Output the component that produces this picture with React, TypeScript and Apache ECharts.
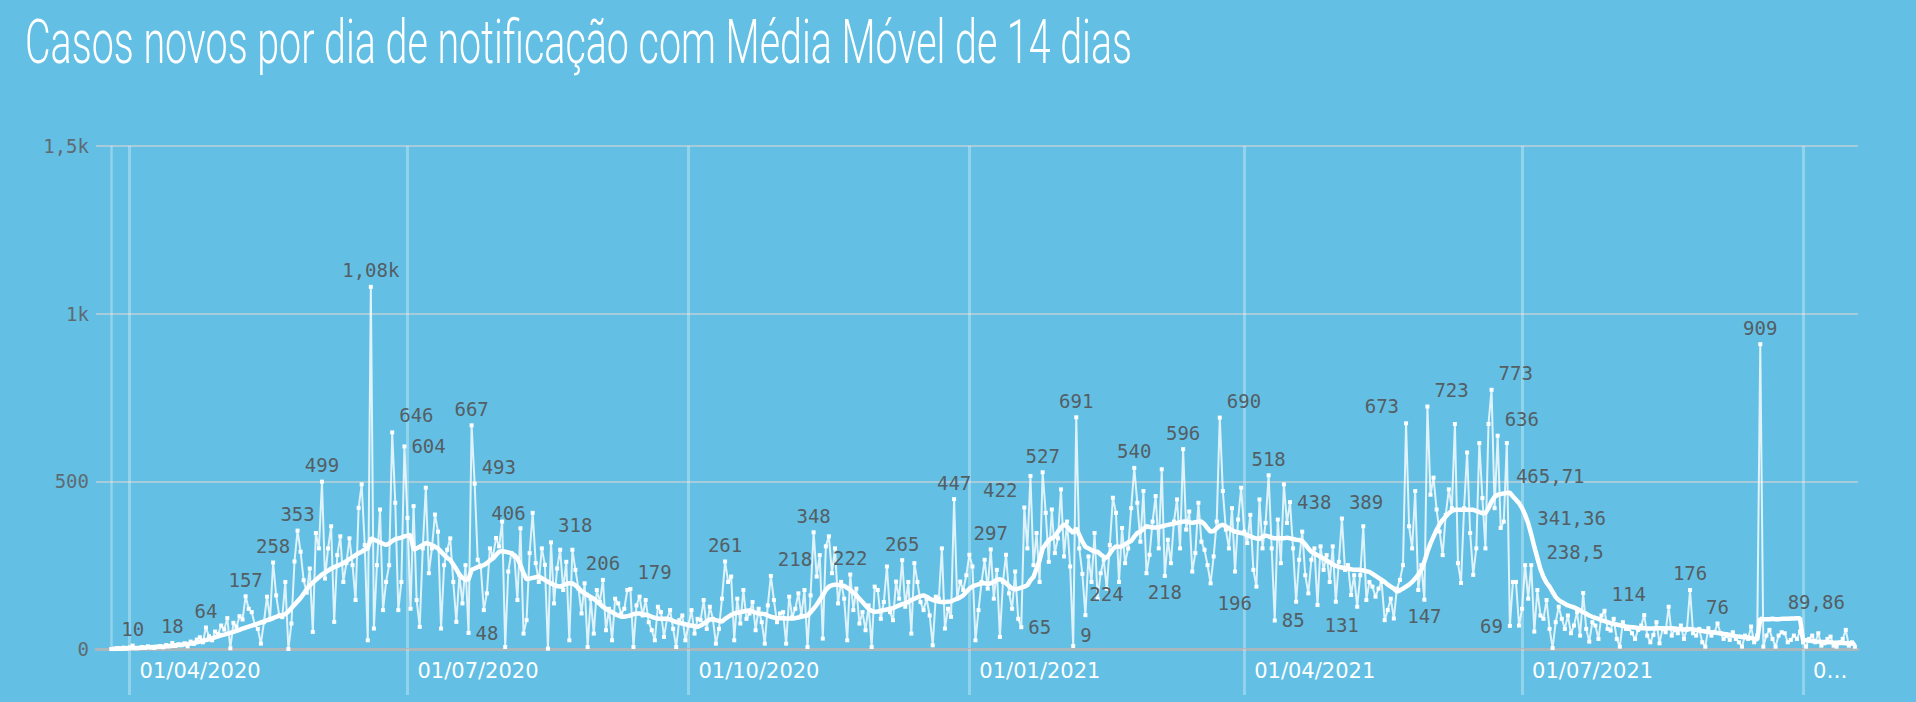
import React, { useEffect, useRef } from 'react';
import * as echarts from 'echarts';

const TITLE = 'Casos novos por dia de notificação com Média Móvel de 14 dias';

// calendar of the x axis (one category per day)
const START_YEAR = 2020;
const START_MONTH = 2; // March (0-based)
const START_DAY = 21;
const DAY_COUNT = 578; // 21/03/2020 .. 19/10/2021
const FIRST_DATA_DAY = 5; // 26/03/2020

const TICK_DATES = ['2020-04-01', '2020-07-01', '2020-10-01', '2021-01-01', '2021-04-01', '2021-07-01', '2021-10-01'];
const TICK_LABELS = ['01/04/2020', '01/07/2020', '01/10/2020', '01/01/2021', '01/04/2021', '01/07/2021', '0…'];

const Y_TICKS = [0, 500, 1000, 1500];
const Y_TICK_LABELS = ['0', '500', '1k', '1,5k'];

// daily new cases, from 26/03/2020
const DAILY: number[] = [
  0, 1, 3, 2, 4, 1, 5, 10, 2, 3,
  6, 4, 8, 5, 3, 7, 9, 5, 12, 8,
  18, 9, 14, 11, 17, 8, 22, 15, 28, 35,
  20, 64, 38, 26, 52, 45, 70, 58, 92, 2,
  78, 66, 98, 88, 157, 120, 110, 72, 60, 16,
  80, 156, 90, 258, 160, 100, 95, 200, 0, 76,
  261, 353, 290, 205, 168, 240, 51, 346, 300, 499,
  210, 300, 366, 81, 280, 336, 200, 256, 330, 250,
  146, 421, 491, 310, 26, 1080, 61, 250, 416, 116,
  200, 250, 646, 436, 116, 200, 604, 391, 120, 426,
  146, 66, 300, 481, 226, 300, 401, 350, 61, 250,
  296, 330, 200, 81, 220, 136, 250, 48, 667, 493,
  266, 246, 116, 166, 300, 276, 331, 306, 380, 6,
  231, 286, 276, 146, 360, 46, 86, 286, 406, 256,
  200, 300, 251, 1, 318, 136, 240, 296, 176, 260,
  26, 296, 236, 180, 106, 196, 6, 150, 46, 176,
  140, 206, 56, 120, 26, 150, 136, 106, 120, 176,
  179, 6, 130, 156, 100, 146, 80, 56, 26, 126,
  110, 36, 90, 116, 60, 6, 86, 100, 26, 70,
  116, 46, 90, 86, 146, 60, 126, 90, 16, 60,
  150, 261, 200, 216, 26, 150, 76, 176, 90, 106,
  140, 56, 120, 80, 16, 130, 218, 146, 80, 106,
  110, 16, 156, 96, 120, 166, 100, 176, 6, 160,
  348, 216, 280, 31, 306, 336, 226, 300, 136, 200,
  150, 26, 222, 116, 180, 76, 110, 56, 130, 6,
  186, 176, 90, 140, 246, 110, 86, 201, 150, 265,
  126, 200, 46, 256, 200, 140, 116, 150, 100, 11,
  156, 150, 300, 61, 120, 96, 447, 150, 201, 176,
  220, 281, 246, 26, 116, 200, 266, 180, 297, 150,
  236, 36, 200, 281, 166, 120, 231, 90, 65, 422,
  300, 516, 250, 346, 200, 527, 406, 260, 416, 286,
  330, 476, 276, 380, 246, 9, 691, 300, 224, 101,
  276, 200, 346, 150, 226, 266, 180, 310, 451, 406,
  200, 361, 256, 300, 420, 540, 436, 320, 471, 226,
  281, 380, 456, 300, 536, 218, 326, 256, 380, 446,
  300, 596, 356, 410, 231, 286, 436, 320, 296, 250,
  196, 276, 380, 690, 471, 356, 300, 420, 231, 386,
  481, 350, 316, 400, 236, 186, 446, 300, 376, 518,
  300, 85, 386, 256, 491, 376, 438, 300, 141, 266,
  350, 220, 166, 266, 300, 131, 306, 236, 280, 200,
  306, 141, 260, 389, 236, 250, 161, 220, 126, 220,
  366, 146, 200, 186, 156, 180, 200, 86, 116, 150,
  91, 180, 206, 250, 673, 366, 300, 471, 176, 250,
  147, 723, 460, 511, 416, 350, 280, 400, 476, 420,
  671, 256, 197, 420, 586, 346, 221, 300, 614, 450,
  300, 671, 773, 420, 636, 361, 380, 614, 69, 200,
  200, 70, 120, 250, 150, 250, 52, 176, 100, 90,
  146, 60, 3, 80, 126, 90, 60, 100, 47, 70,
  110, 40, 167, 60, 22, 80, 70, 30, 100, 114,
  60, 55, 90, 30, 7, 80, 60, 60, 47, 30,
  57, 70, 101, 40, 20, 42, 80, 17, 60, 50,
  126, 40, 57, 47, 70, 30, 60, 176, 47, 40,
  60, 20, 7, 62, 40, 50, 76, 47, 30, 40,
  27, 50, 30, 20, 7, 40, 30, 67, 20, 40,
  909, 7, 40, 57, 30, 7, 40, 50, 47, 20,
  27, 40, 30, 52, 20, 7, 30, 40, 20, 47,
  10, 17, 30, 37, 10, 7, 20, 30, 57, 10,
  20, 7,
];

// 14-day moving average, from 26/03/2020
const MOVING_AVG: number[] = [
  0, 0, 1, 1, 1, 2, 2, 3, 3, 3,
  4, 4, 5, 5, 6, 6, 7, 7, 8, 9,
  10, 11, 12, 13, 14, 15, 16, 18, 20, 22,
  25, 27, 29, 32, 35, 38, 41, 43, 46, 48,
  51, 54, 57, 61, 64, 67, 70, 73, 76, 79,
  82, 86, 88, 92, 96, 99, 101, 104, 112, 122,
  132, 142, 152, 165, 178, 190, 198, 206, 214, 222,
  228, 234, 240, 244, 248, 252, 256, 262, 268, 274,
  280, 286, 290, 296, 300, 330, 326, 322, 318, 314,
  310, 315, 322, 328, 330, 332, 336, 338, 340, 296,
  300, 305, 310, 316, 314, 310, 305, 300, 290, 280,
  272, 266, 252, 238, 222, 212, 206, 208, 236, 240,
  244, 248, 250, 256, 264, 270, 280, 290, 292, 290,
  288, 286, 280, 270, 250, 226, 208, 210, 212, 214,
  216, 211, 206, 200, 196, 191, 188, 186, 190, 194,
  196, 196, 190, 182, 172, 166, 161, 155, 150, 142,
  134, 126, 120, 114, 110, 104, 100, 96, 96, 98,
  100, 104, 106, 106, 104, 102, 100, 96, 93, 91,
  90, 90, 90, 88, 84, 80, 78, 76, 74, 71,
  70, 68, 66, 70, 76, 82, 88, 88, 86, 84,
  82, 90, 96, 102, 106, 108, 110, 112, 114, 115,
  112, 108, 106, 105, 104, 100, 96, 94, 92, 92,
  92, 91, 91, 91, 92, 94, 96, 98, 100, 110,
  120, 132, 146, 160, 176, 186, 190, 192, 191, 190,
  188, 182, 176, 168, 160, 150, 140, 130, 120, 114,
  111, 112, 114, 116, 118, 120, 122, 126, 130, 134,
  136, 140, 146, 150, 154, 158, 160, 156, 150, 146,
  144, 141, 140, 140, 141, 142, 146, 150, 154, 160,
  170, 180, 186, 190, 193, 196, 196, 194, 196, 200,
  206, 208, 204, 196, 188, 180, 178, 180, 183, 186,
  190, 205, 215, 240, 265, 300, 312, 325, 330, 336,
  350, 362, 372, 365, 355, 346, 360, 340, 320, 305,
  300, 295, 291, 290, 282, 275, 272, 285, 298, 306,
  305, 306, 312, 318, 322, 335, 346, 350, 358, 366,
  364, 362, 362, 363, 366, 368, 370, 372, 374, 376,
  378, 380, 380, 378, 376, 378, 380, 380, 372, 360,
  350, 352, 360, 368, 370, 366, 360, 354, 350, 348,
  346, 344, 340, 336, 332, 330, 328, 335, 338, 336,
  332, 330, 330, 330, 330, 332, 330, 328, 326, 325,
  322, 312, 300, 290, 285, 280, 275, 270, 264, 258,
  252, 248, 245, 243, 241, 240, 238, 236, 236, 236,
  234, 232, 230, 224, 218, 212, 206, 200, 192, 186,
  180, 171, 175, 180, 186, 192, 200, 210, 222, 236,
  260, 290, 315, 335, 355, 372, 385, 395, 405, 412,
  415, 415, 415, 415, 415, 415, 415, 412, 408, 405,
  405, 420, 440, 454, 460, 462, 464, 465, 465.71, 455,
  445, 435, 420, 400, 375, 341.36, 305, 272, 238.5, 215,
  198, 186, 170, 155, 146, 140, 135, 130, 127, 124,
  120, 115, 110, 105, 100, 96, 93, 90, 86, 83,
  80, 77, 75, 73, 71, 69, 67, 66, 65, 64,
  62, 62, 62, 61, 61, 61, 62, 62, 62, 61,
  62, 62, 61, 60, 59, 58, 57, 60, 58, 57,
  55, 54, 52, 51, 50, 49, 48, 46, 45, 44,
  42, 40, 38, 37, 36, 35, 34, 33, 30, 28,
  90, 89, 89, 89, 90, 89, 89, 89.86, 90, 90,
  91, 91, 92, 92, 27, 26, 25, 24, 23, 22,
  21, 21, 20, 20, 19, 19, 18, 18, 17, 17,
  16, 15,
];

// which points carry a data label (day index on the axis) and where the label sits
const DAILY_LABELS: [number, string][] = [
  [12, 'top'], [25, 'top'], [36, 'top'], [49, 'top'], [58, 'top'], [66, 'top'], [74, 'top'],
  [90, 'top'], [97, 'rightUp'], [101, 'right'], [122, 'right'], [123, 'top'], [124, 'rightUp'],
  [143, 'left'], [149, 'rightUp'], [166, 'top'], [175, 'rightUp'], [206, 'top'], [221, 'rightUp'],
  [235, 'top'], [247, 'top'], [264, 'top'], [281, 'top'], [293, 'top'], [303, 'right'],
  [304, 'leftUp'], [310, 'top'], [320, 'rightSlightUp'], [321, 'top'], [323, 'rightDown'],
  [340, 'top'], [350, 'bottom'], [356, 'top'], [365, 'rightDown'], [368, 'rightUp'], [384, 'top'],
  [386, 'right'], [391, 'right'], [400, 'rightDown'], [408, 'rightUp'], [429, 'leftUp'],
  [435, 'bottom'], [436, 'rightUp'], [457, 'rightUp'], [459, 'rightUp'], [463, 'left'],
  [494, 'rightUp'], [522, 'top'], [531, 'top'], [545, 'top'],
];
const MA_LABELS: [number, string][] = [[463, 'rightUp'], [470, 'rightUp'], [473, 'rightUp'], [552, 'rightUp']];

const PLACEMENT: Record<string, any> = {
  top: { position: 'top' },
  right: { position: 'right' },
  rightUp: { position: 'right', offset: [0, -17] },
  rightSlightUp: { position: 'right', offset: [0, -11] },
  rightDown: { position: 'right', offset: [0, 20] },
  left: { position: 'left' },
  leftUp: { position: 'left', offset: [0, -17] },
  bottom: { position: 'bottom' },
};

const BG = '#63c0e4';
const VGRID = 'rgba(255,255,255,0.3)';
const HGRID = '#a6cbdb';
const LABEL_COLOR = '#545e65';
const MONO = "'DejaVu Sans Mono', 'Liberation Mono', monospace";

function buildCategories(): string[] {
  const out: string[] = [];
  for (let k = 0; k < DAY_COUNT; k++) {
    const d = new Date(Date.UTC(START_YEAR, START_MONTH, START_DAY + k));
    out.push(d.toISOString().slice(0, 10));
  }
  return out;
}

function fmt(v: number): string {
  if (v >= 1000) return (v / 1000).toFixed(2).replace('.', ',') + 'k';
  return String(v).replace('.', ',');
}

function buildSeriesData(values: number[], labels: [number, string][]) {
  const labelMap = new Map<number, string>(labels);
  const out: any[] = [];
  for (let i = 0; i < DAY_COUNT; i++) {
    const k = i - FIRST_DATA_DAY;
    if (k < 0 || k >= values.length) {
      out.push(null);
      continue;
    }
    const v = values[k];
    const place = labelMap.get(i);
    if (place) {
      out.push({
        value: v,
        label: {
          show: true,
          formatter: () => fmt(v),
          color: LABEL_COLOR,
          fontFamily: MONO,
          fontSize: 19,
          ...PLACEMENT[place],
        },
      });
    } else {
      out.push(v);
    }
  }
  return out;
}

function titleScale(): number {
  try {
    const c = document.createElement('canvas');
    const ctx = c.getContext('2d');
    if (!ctx) return 0.75;
    ctx.font = '300 62px Roboto';
    const w = ctx.measureText(TITLE).width;
    return w > 0 ? 1107 / w : 0.75;
  } catch (e) {
    return 0.75;
  }
}

export default function App() {
  const ref = useRef<HTMLDivElement>(null);

  useEffect(() => {
    if (!ref.current) return;
    const chart = echarts.init(ref.current, undefined, { renderer: 'svg' });
    const categories = buildCategories();
    const tickSet = new Set(TICK_DATES);
    const isTick = (_idx: number, value: string) => tickSet.has(value);

    chart.setOption({
      animation: false,
      backgroundColor: BG,
      graphic: [
        {
          type: 'text',
          x: 25,
          y: 42,
          scaleX: titleScale(),
          style: {
            text: TITLE,
            fill: '#ffffff',
            font: '300 62px Roboto',
            verticalAlign: 'middle',
            align: 'left',
          },
        },
      ],
      grid: { left: 96, right: 58, top: 146, bottom: 53, outerBoundsMode: 'none' },
      xAxis: {
        type: 'category',
        data: categories,
        boundaryGap: false,
        axisLine: { show: true, lineStyle: { color: '#a9b7bf', width: 3 } },
        axisTick: { show: true, interval: isTick, length: 46, lineStyle: { color: VGRID, width: 3 } },
        splitLine: { show: true, interval: isTick, lineStyle: { color: VGRID, width: 3 } },
        axisLabel: {
          interval: isTick,
          formatter: (value: string) => {
            const k = TICK_DATES.indexOf(value);
            return k >= 0 ? TICK_LABELS[k] : '';
          },
          align: 'left',
          padding: [0, 0, 0, 10],
          margin: 11,
          color: '#ffffff',
          fontFamily: "'DejaVu Sans', sans-serif",
          fontSize: 21,
        },
      },
      yAxis: {
        type: 'value',
        min: 0,
        max: 1500,
        interval: 500,
        axisLine: { show: false },
        axisTick: { show: false },
        splitLine: { show: true, lineStyle: { color: HGRID, width: 2 } },
        axisLabel: {
          margin: 7,
          color: '#5e6b72',
          fontFamily: MONO,
          fontSize: 19,
          formatter: (v: number) => {
            const k = Y_TICKS.indexOf(v);
            return k >= 0 ? Y_TICK_LABELS[k] : String(v);
          },
        },
      },
      series: [
        {
          name: 'Casos novos',
          type: 'line',
          data: buildSeriesData(DAILY, DAILY_LABELS),
          symbol: 'rect',
          symbolSize: 4,
          showAllSymbol: true,
          lineStyle: { color: 'rgba(255,255,255,0.8)', width: 2 },
          itemStyle: { color: '#ffffff' },
          z: 2,
          markLine: {
            silent: true,
            symbol: ['none', 'none'],
            label: { show: false },
            lineStyle: { color: VGRID, width: 2.5, type: 'solid' },
            data: [{ xAxis: categories[FIRST_DATA_DAY] }],
          },
        },
        {
          name: 'Média Móvel 14 dias',
          type: 'line',
          data: buildSeriesData(MOVING_AVG, MA_LABELS),
          symbol: 'circle',
          symbolSize: 2,
          showAllSymbol: true,
          lineStyle: { color: '#ffffff', width: 4.5 },
          itemStyle: { color: '#ffffff' },
          z: 3,
        },
      ],
    });

    return () => chart.dispose();
  }, []);

  return (
    <div
      ref={ref}
      style={{ position: 'fixed', left: 0, top: 0, width: 1916, height: 702, background: BG }}
    />
  );
}
